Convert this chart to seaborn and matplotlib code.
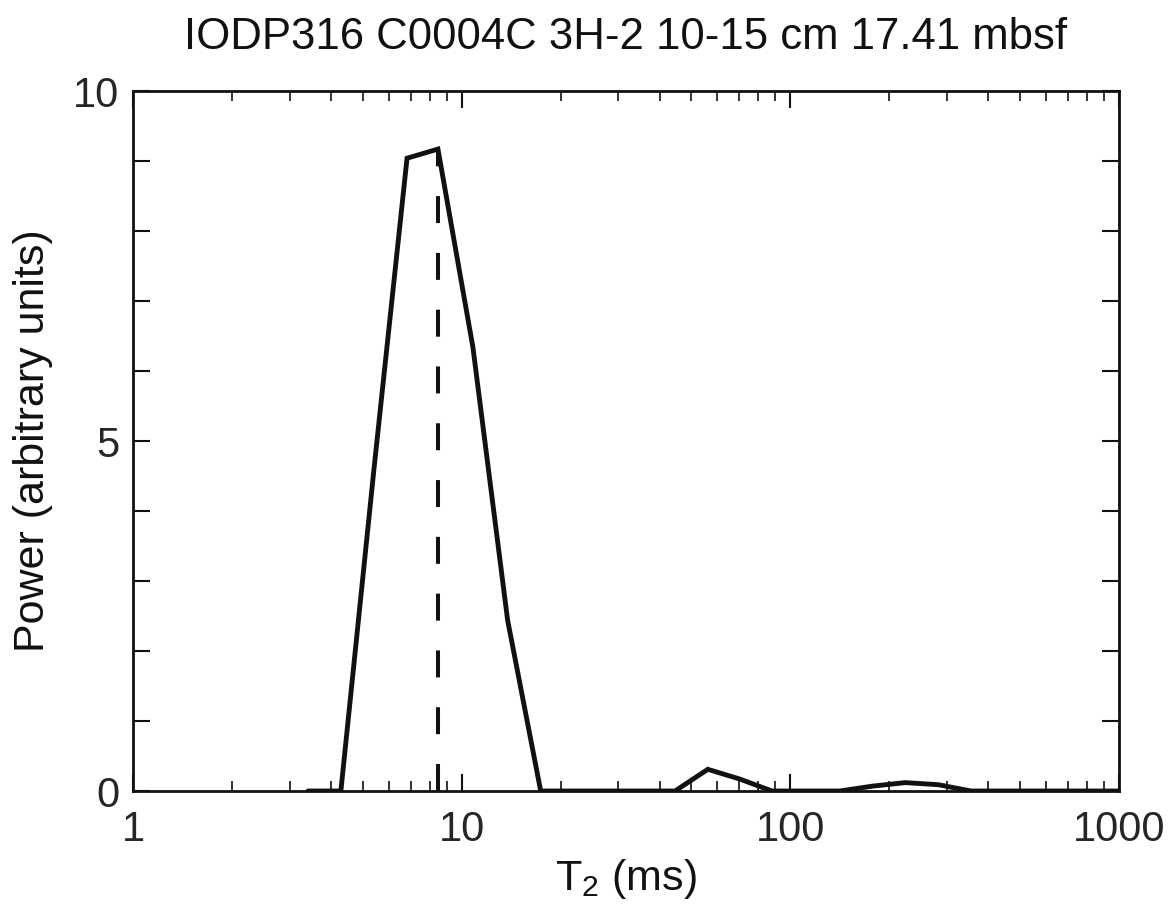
import matplotlib
matplotlib.use("Agg")
import matplotlib.pyplot as plt
import matplotlib.ticker as mticker
import numpy as np
import pandas as pd
import seaborn as sns

# ---- data ----
t2_ms = [3.41, 4.29, 5.41, 6.82, 8.47, 10.82, 13.8, 17.4, 22.0, 28.0, 35.5,
         44.6, 56.1, 70.3, 87.9, 111.0, 141.5, 178.0, 224.0, 282.0, 355.0,
         447.0, 562.0, 708.0, 891.0, 1122.0]
power = [0.0, 0.0, 4.6, 9.04, 9.17, 6.34, 2.44, 0.0, 0.0, 0.0, 0.0,
         0.0, 0.31, 0.17, 0.0, 0.0, 0.0, 0.07, 0.12, 0.09, 0.0,
         0.0, 0.0, 0.0, 0.0, 0.0]
peak_t2 = 8.45
peak_power = 9.16
title = "IODP316 C0004C 3H-2 10-15 cm 17.41 mbsf"
xlabel = r"T$_{\mathregular{2}}$ (ms)"
ylabel = "Power (arbitrary units)"
xticks = [1, 10, 100, 1000]
xticklabels = ["1", "10", "100", "1000"]
yticks = [0, 5, 10]
yticklabels = ["0", "5", "10"]

sns.set_style("ticks")
plt.rcParams["font.family"] = ["Liberation Sans", "DejaVu Sans"]
plt.rcParams["mathtext.fontset"] = "custom"
plt.rcParams["mathtext.rm"] = "Liberation Sans"

df = pd.DataFrame({"T2": t2_ms, "Power": power})

fig = plt.figure(figsize=(11.75, 9.23), dpi=100)
ax = fig.add_axes([0.1132, 0.1430, 0.8391, 0.7584])

sns.lineplot(data=df, x="T2", y="Power", ax=ax, color="#111111",
             linewidth=3.5, solid_joinstyle="miter", sort=False)
ax.vlines(peak_t2, 0, peak_power, colors="#111111", linewidth=2.9,
          linestyles=[(0, (6.7, 7.4))])

ax.set_xscale("log")
ax.set_xlim(1, 1000)
ax.set_ylim(0, 10)
ax.set_xticks(xticks)
ax.set_xticklabels(xticklabels)
ax.xaxis.set_minor_locator(mticker.LogLocator(base=10, subs=np.arange(2, 10)))
ax.xaxis.set_minor_formatter(mticker.NullFormatter())
ax.set_yticks(yticks)
ax.set_yticklabels(yticklabels)
ax.yaxis.set_minor_locator(mticker.MultipleLocator(1))

ax.tick_params(axis="both", which="major", direction="in", length=12,
               width=1.5, top=True, right=True, labelsize=30, pad=10,
               color="#111111")
ax.tick_params(axis="x", which="minor", direction="in", length=7,
               width=1.2, top=True, bottom=True, color="#111111")
ax.tick_params(axis="y", which="minor", direction="in", length=12,
               width=1.5, left=True, right=True, color="#111111")
ax.tick_params(axis="x", which="major", pad=14)

for s in ax.spines.values():
    s.set_linewidth(2.0)
    s.set_color("#111111")

ax.set_title(title, fontsize=31.5, pad=30, color="#111111")
ax.set_xlabel(xlabel, fontsize=31, labelpad=5, color="#111111")
ax.set_ylabel(ylabel, fontsize=31, labelpad=14, color="#111111")

fig.savefig("out.png", dpi=100, facecolor="white")
